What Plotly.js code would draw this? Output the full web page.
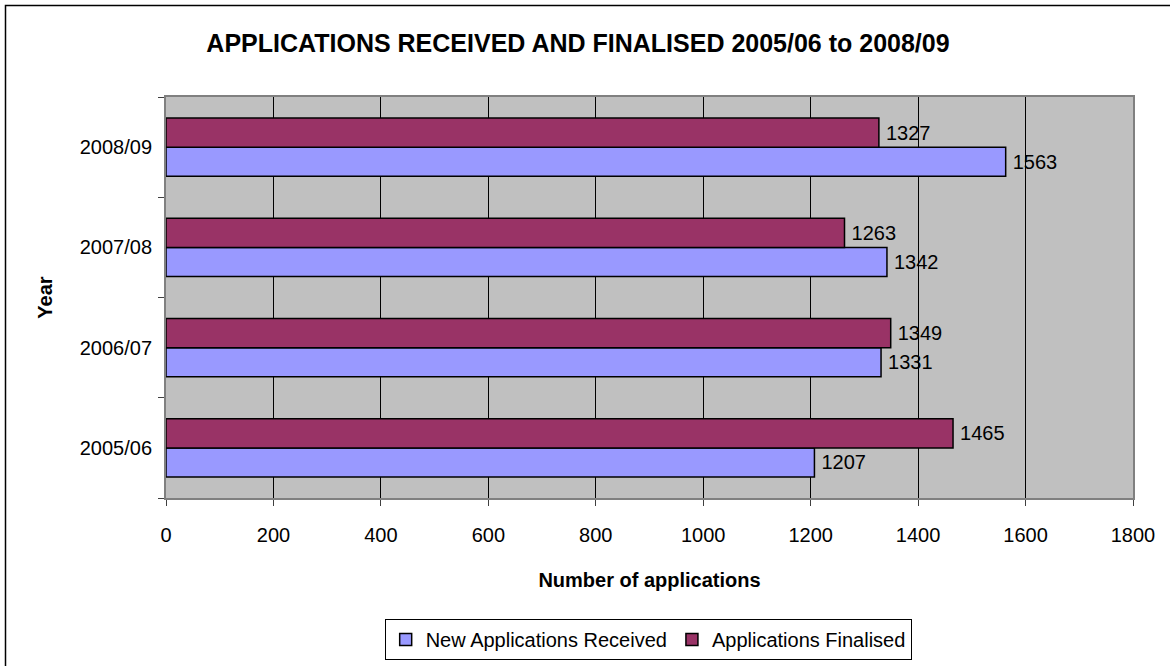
<!DOCTYPE html>
<html>
<head>
<meta charset="utf-8">
<script src="https://cdn.plot.ly/plotly-3.0.1.min.js"></script>
<style>
html,body{margin:0;padding:0;background:#fff;}
#chart{width:1170px;height:666px;}
</style>
</head>
<body>
<div id="chart"></div>
<script>
var years = ["2005/06", "2006/07", "2007/08", "2008/09"];
var received = [1207, 1331, 1342, 1563];
var finalised = [1465, 1349, 1263, 1327];
var seriesNames = ["New Applications Received", "Applications Finalised"];
var xTicks = [0, 200, 400, 600, 800, 1000, 1200, 1400, 1600, 1800];

var FONT = '"Liberation Sans", Arial, sans-serif';

var traces = [
  {
    type: 'bar', orientation: 'h', name: seriesNames[0],
    y: years, x: received,
    texttemplate: '\u2009%{x}', textposition: 'outside',
    textfont: {family: FONT, size: 20, color: '#000'},
    cliponaxis: false,
    marker: {color: '#9999FF', line: {color: '#000', width: 1.5}},
    hoverinfo: 'x+name'
  },
  {
    type: 'bar', orientation: 'h', name: seriesNames[1],
    y: years, x: finalised,
    texttemplate: '\u2009%{x}', textposition: 'outside',
    textfont: {family: FONT, size: 20, color: '#000'},
    cliponaxis: false,
    marker: {color: '#993366', line: {color: '#000', width: 1.5}},
    hoverinfo: 'x+name'
  }
];

var layout = {
  width: 1170, height: 666,
  margin: {l: 166, r: 37, t: 97, b: 168, pad: 0, autoexpand: false},
  paper_bgcolor: '#fff',
  plot_bgcolor: '#C0C0C0',
  font: {family: FONT, size: 20, color: '#000'},
  barmode: 'group', bargap: 0.42, bargroupgap: 0,
  showlegend: true,
  title: {
    text: '<b>APPLICATIONS RECEIVED AND FINALISED 2005/06 to 2008/09</b>',
    font: {family: FONT, size: 25, color: '#000'},
    xref: 'container', x: 0.494, xanchor: 'center',
    yref: 'container', y: 1 - 43/666, yanchor: 'middle'
  },
  xaxis: {
    range: [0, 1800], tickvals: xTicks, ticktext: xTicks.map(String),
    showgrid: true, gridcolor: '#000', gridwidth: 1,
    zeroline: false,
    ticks: 'outside', ticklen: 6, tickcolor: '#404040', tickwidth: 1,
    ticklabelstandoff: 12,
    showline: true, mirror: true, linecolor: '#808080', linewidth: 2,
    tickfont: {family: FONT, size: 20, color: '#000'},
    title: {text: '<b>Number of applications</b>', font: {family: FONT, size: 20, color: '#000'}, standoff: 28},
    fixedrange: true
  },
  yaxis: {
    type: 'category', categoryorder: 'array', categoryarray: years,
    showgrid: false, zeroline: false,
    ticks: 'outside', ticklen: 6, tickcolor: '#404040', tickwidth: 1,
    tickson: 'boundaries',
    ticklabelstandoff: 8,
    showline: true, mirror: true, linecolor: '#808080', linewidth: 2,
    tickfont: {family: FONT, size: 20, color: '#000'},
    title: {text: '<b>Year</b>', font: {family: FONT, size: 20, color: '#000'}, standoff: 22},
    fixedrange: true
  },
  legend: {
    orientation: 'h', x: 0.554, xanchor: 'center', xref: 'container',
    y: 1 - 619/666, yanchor: 'top', yref: 'container',
    bordercolor: '#000', borderwidth: 1, bgcolor: '#fff',
    font: {family: FONT, size: 20, color: '#000'},
    traceorder: 'normal', itemclick: false, itemdoubleclick: false,
    itemwidth: 30, tracegroupgap: 0,
    valign: 'middle'
  },
  shapes: [
    {type: 'rect', xref: 'paper', yref: 'paper',
     x0: (5.5 - 166) / 967, x1: (1200 - 166) / 967,
     y0: (498 - 700) / 401, y1: (498 - 5.5) / 401,
     line: {color: '#000', width: 1.5}, fillcolor: 'rgba(0,0,0,0)', layer: 'above'}
  ]
};

Plotly.newPlot('chart', traces, layout, {displayModeBar: false, staticPlot: true});
</script>
</body>
</html>
